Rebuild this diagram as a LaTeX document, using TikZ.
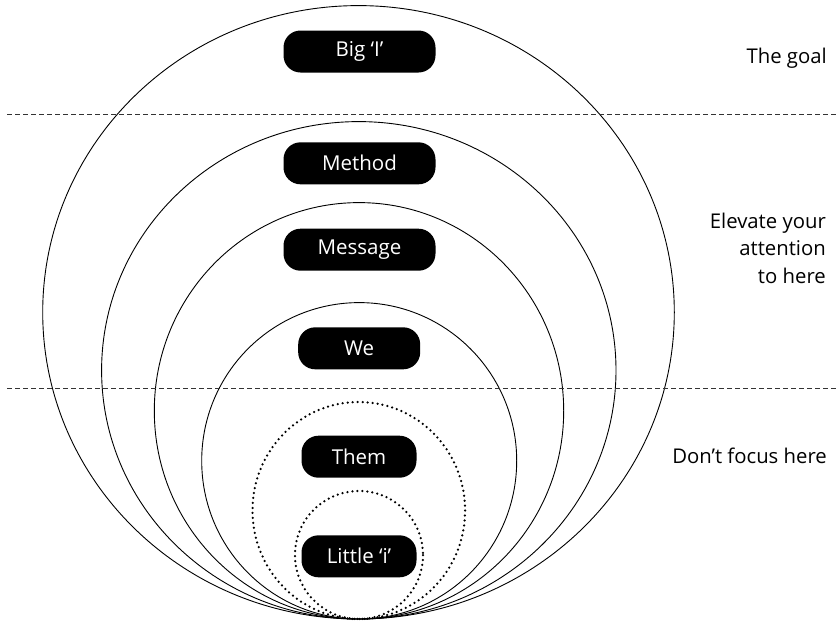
\documentclass[tikz,border=0pt]{standalone}
\usepackage{fontspec}
\setmainfont{Open Sans}
\begin{document}
\begin{tikzpicture}[x=1pt,y=-1pt,
  ring/.style={draw=black, line width=0.9pt},
  dotring/.style={draw=black, line width=2.5pt, line cap=round, dash pattern=on 0pt off 5pt},
  divider/.style={draw=black!80, line width=0.9pt, dash pattern=on 5pt off 3pt},
  pill/.style={fill=black, text=white, rounded corners=17pt, minimum height=42pt,
    inner sep=0pt, font=\fontsize{20.5}{24}\selectfont},
  side/.style={anchor=base east, align=right, inner sep=0pt,
    font=\fontsize{20.3}{27.5}\selectfont}]
\useasboundingbox (0,0) rectangle (839,622);

% nested rings, all touching at the bottom point
\draw[ring] (358.5,312.3) ellipse [x radius=315.8, y radius=306.7];
\draw[ring] (358.8,370.3) ellipse [x radius=257.2, y radius=248.7];
\draw[ring] (359.0,410.8) ellipse [x radius=204.7, y radius=208.2];
\draw[ring] (359.2,460.8) ellipse [x radius=157.5, y radius=158.2];
\draw[dotring] (358.8,510.5) ellipse [x radius=106.3, y radius=108.5];
\draw[dotring] (359.0,555.0) circle [radius=64];

% horizontal dividers
\draw[divider] (7,114.3) -- (839,114.3);
\draw[divider] (7,388.3) -- (839,388.3);

% labels inside the rings
\node[pill, minimum width=152pt] (bigI)    at (359.5,51.5)  {Big ‘I’};
\node[pill, minimum width=152pt] (method)  at (359.5,163.3) {Method};
\node[pill, minimum width=152pt] (message) at (359.5,249.7) {Message};
\node[pill, minimum width=122pt] (we)      at (359.2,348.3) {We};
\node[pill, minimum width=115pt] (them)    at (359.0,456.7) {Them};
\node[pill, minimum width=115pt] (littlei) at (359.0,556.3) {Little ‘i’};

% notes on the right (a multi-line node sits on its last baseline)
\node[side] (goal)     at (827,63.3)  {The goal};
\node[side] (elevate)  at (826,283.3) {Elevate your\\attention\\to here};
\node[side] (nofocus)  at (827,463.3) {Don’t focus here};
\end{tikzpicture}
\end{document}
